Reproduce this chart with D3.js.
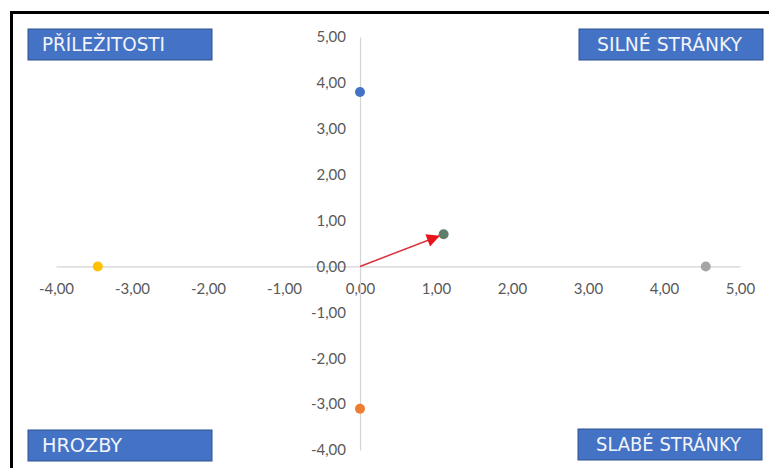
<!DOCTYPE html>
<html>
<head>
<meta charset="utf-8">
<script src="https://cdn.jsdelivr.net/npm/d3@7"></script>
<style>
  body { margin: 0; background: #fff; }
  svg { display: block; }
</style>
</head>
<body>
<div class="container"></div>
<script>
// point values (x, y) per series
const seriesNames = ["S1", "S2", "S3", "S4", "S5"];
const xValues = [0, 0, -3.45, 4.55, 1.1];
const yValues = [3.8, -3.1, 0, 0, 0.7];
const seriesColors = ["#4472C4", "#ED7D31", "#FFC000", "#A5A5A5", "#5F7F6C"];

const tickValues = [-4, -3, -2, -1, 0, 1, 2, 3, 4, 5];
const quadrantLabels = ["PŘÍLEŽITOSTI", "SILNÉ STRÁNKY", "HROZBY", "SLABÉ STRÁNKY"];
// arrow goes from origin to the last point
const arrowFrom = [0, 0];

const w = 769, h = 468;
const fmt = d => d.toFixed(2).replace(".", ",");
const font = "'Liberation Sans Narrow', 'DejaVu Sans Condensed', Lato, sans-serif";

const xScale = d3.scaleLinear().domain([-4, 5]).range([56, 740]);
const yScale = d3.scaleLinear().domain([-4, 5]).range([450, 37]);

const svg = d3.select(".container")
  .append("svg")
  .attr("width", w)
  .attr("height", h)
  .attr("viewBox", [0, 0, w, h]);

// black frame (top + left only)
svg.append("rect").attr("x", 10).attr("y", 11).attr("width", w - 10).attr("height", 3).attr("fill", "#000");
svg.append("rect").attr("x", 10).attr("y", 11).attr("width", 3).attr("height", h - 11).attr("fill", "#000");

// x axis
const xAxis = svg.append("g")
  .attr("transform", `translate(0, ${yScale(0)})`)
  .call(d3.axisBottom(xScale).tickValues(tickValues).tickFormat(fmt).tickSize(0).tickPadding(17));
xAxis.select(".domain").attr("stroke", "#D4D4D4").attr("stroke-width", 1.2);

// y axis
const yAxis = svg.append("g")
  .attr("transform", `translate(${xScale(0)}, 0)`)
  .call(d3.axisLeft(yScale).tickValues(tickValues).tickFormat(fmt).tickSize(0).tickPadding(14));
yAxis.select(".domain").attr("stroke", "#D4D4D4").attr("stroke-width", 1.2);

svg.selectAll(".tick text")
  .attr("fill", "#595959")
  .style("font-family", "Lato, 'Open Sans', sans-serif")
  .style("font-size", "15px");

// arrow
svg.append("defs").append("marker")
  .attr("id", "arrowhead")
  .attr("viewBox", "0 0 10 10")
  .attr("refX", 10).attr("refY", 5)
  .attr("markerWidth", 15).attr("markerHeight", 13)
  .attr("markerUnits", "userSpaceOnUse")
  .attr("orient", "auto")
  .append("path")
  .attr("d", "M0,0 L10,5 L0,10 Z")
  .attr("fill", "#E8141B");

const last = xValues.length - 1;
const x0 = xScale(arrowFrom[0]), y0 = yScale(arrowFrom[1]);
const x1 = xScale(xValues[last]), y1 = yScale(yValues[last]);
const len = Math.hypot(x1 - x0, y1 - y0);
const shrink = 4;
svg.append("line")
  .attr("x1", x0).attr("y1", y0)
  .attr("x2", x1 - (x1 - x0) / len * shrink)
  .attr("y2", y1 - (y1 - y0) / len * shrink)
  .attr("stroke", "#D9323A")
  .attr("stroke-width", 1.5)
  .attr("marker-end", "url(#arrowhead)");

// points
svg.selectAll("circle.pt")
  .data(seriesNames)
  .join("circle")
  .attr("class", "pt")
  .attr("cx", (d, i) => xScale(xValues[i]))
  .attr("cy", (d, i) => yScale(yValues[i]))
  .attr("r", 5)
  .attr("fill", (d, i) => seriesColors[i]);

// quadrant label boxes
const boxes = [
  { x: 28, y: 29 },
  { x: 579, y: 29 },
  { x: 28, y: 430 },
  { x: 578, y: 429 }
];
const bw = 184, bh = 31;
const bg = svg.selectAll("g.box")
  .data(quadrantLabels)
  .join("g")
  .attr("class", "box")
  .attr("transform", (d, i) => `translate(${boxes[i].x}, ${boxes[i].y})`);
bg.append("rect")
  .attr("width", bw).attr("height", bh)
  .attr("fill", "#4472C4")
  .attr("stroke", "#2F528F")
  .attr("stroke-width", 1);
bg.append("text")
  .attr("x", (d, i) => i % 2 ? 18 : 14)
  .attr("y", bh / 2)
  .attr("dy", "0.36em")
  .attr("fill", "#F2F4FA")
  .style("font-family", font)
  .style("font-size", "19px")
  .attr("textLength", (d, i) => [123, 145, 80, 145][i])
  .attr("lengthAdjust", "spacingAndGlyphs")
  .text(d => d);
</script>
</body>
</html>
